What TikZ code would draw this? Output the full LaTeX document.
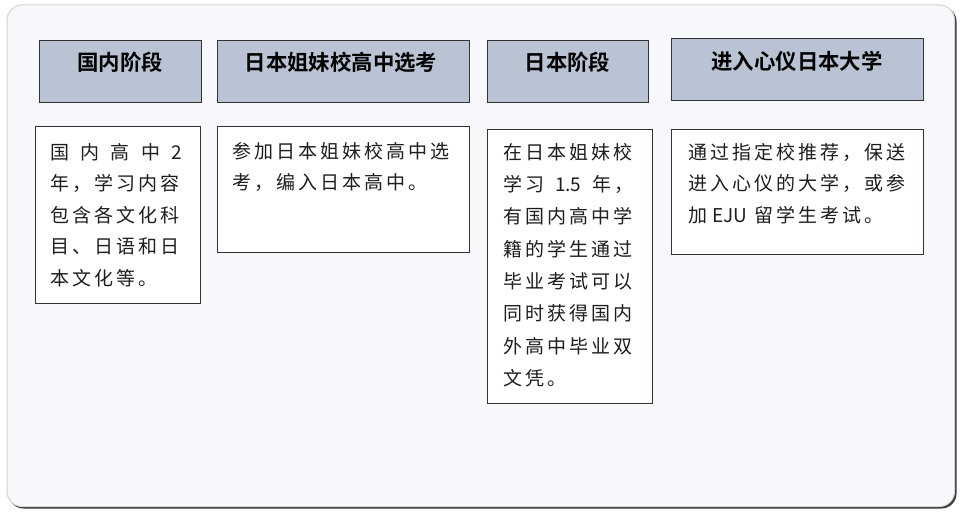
\documentclass[tikz,border=0pt]{standalone}
\usepackage{fontspec}
\newfontfamily\cjk[BoldFont={Noto Sans CJK SC Bold}]{Noto Sans CJK SC}
\definecolor{hdfill}{HTML}{B9C3D3}
\definecolor{boxdraw}{HTML}{333333}
\definecolor{framefill}{HTML}{F7F8FB}
\definecolor{framedraw}{HTML}{D2D4D8}
\definecolor{shadowc}{HTML}{3A3A3E}
\definecolor{txt}{HTML}{1E1E1E}
\newXeTeXintercharclass\myCJK
\newcount\mycnt
\mycnt="4E00
\loop\XeTeXcharclass\mycnt=\myCJK\relax\advance\mycnt by 1\relax\ifnum\mycnt<"A000\repeat
\mycnt="3001
\loop\XeTeXcharclass\mycnt=\myCJK\relax\advance\mycnt by 1\relax\ifnum\mycnt<"3003\repeat
\mycnt="FF01
\loop\XeTeXcharclass\mycnt=\myCJK\relax\advance\mycnt by 1\relax\ifnum\mycnt<"FF1F\repeat
\XeTeXinterchartoks\myCJK\myCJK={\hskip 3pt\relax}
\newcommand\myspacing{\XeTeXinterchartokenstate=1\relax}
\newcommand\bodyfontA{\cjk\fontsize{19}{31.5}\selectfont\myspacing}
\newcommand\bodyfontB{\cjk\fontsize{19}{32.3}\selectfont\myspacing}
\begin{document}
\begin{tikzpicture}[x=1pt,y=-1pt,
  head/.style={draw=boxdraw, fill=hdfill, line width=1.2pt, inner sep=0pt, anchor=north west},
  body/.style={draw=boxdraw, fill=white, line width=1.2pt, inner sep=0pt, anchor=north west},
  htext/.style={font=\cjk\bfseries\fontsize{21.4}{24}\selectfont, text=black, inner sep=0pt},
  btext/.style={font=\bodyfontA, align=left, anchor=north west, inner sep=0pt, text=txt}]
\useasboundingbox (0,0) rectangle (960,511);
\fill[white] (0,0) rectangle (960,511);
\fill[shadowc, rounded corners=15pt] (8.5,6.5) rectangle (956.5,508.5);
\draw[fill=framefill, draw=framedraw, line width=1pt, rounded corners=15pt] (7,5) rectangle (954.5,506.5);
% headers
\node[head, minimum width=162pt, minimum height=62pt] (h1) at (39,40) {};
\node[head, minimum width=252pt, minimum height=62pt] (h2) at (217,40) {};
\node[head, minimum width=161pt, minimum height=62pt] (h3) at (487,40) {};
\node[head, minimum width=252pt, minimum height=62pt] (h4) at (671,38) {};
\node[htext] (h1t) at (120,62) {国内阶段};
\node[htext] (h2t) at (341,62) {日本姐妹校高中选考};
\node[htext] (h3t) at (567.5,62) {日本阶段};
\node[htext] (h4t) at (797,61.5) {进入心仪日本大学};
% bodies
\node[body, minimum width=165pt, minimum height=177pt] (b1) at (35,126) {};
\node[body, minimum width=252pt, minimum height=126pt] (b2) at (217,126) {};
\node[body, minimum width=165pt, minimum height=274pt] (b3) at (487,129) {};
\node[body, minimum width=252pt, minimum height=125pt] (b4) at (671,129) {};
\node[btext] (b1t) at (50,143) {\makebox[132pt][s]{国\hfill 内\hfill 高\hfill 中\hfill 2}\\
年，学习内容\\包含各文化科\\目、日语和日\\本文化等。};
\node[btext] (b2t) at (232,142) {参加日本姐妹校高中选\\考，编入日本高中。};
\node[btext, font=\bodyfontB] (b3t) at (503,143) {在日本姐妹校\\\makebox[130pt][s]{学习\hfill 1.5\hfill 年，}\\有国内高中学\\籍的学生通过\\毕业考试可以\\同时获得国内\\外高中毕业双\\文凭。};
\node[btext] (b4t) at (688,143) {通过指定校推荐，保送\\进入心仪的大学，或参\\加\hspace{5pt}EJU\hspace{7pt}留学生考试。};
\end{tikzpicture}
\end{document}
